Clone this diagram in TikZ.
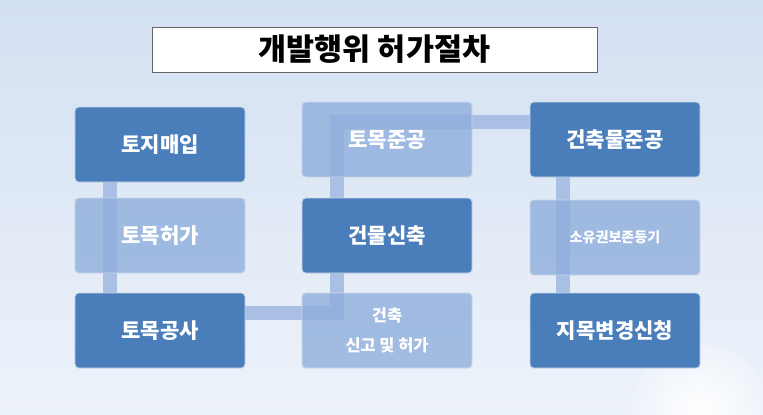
\documentclass[tikz,border=0pt]{standalone}
\usepackage{fontspec}
\setmainfont{Noto Sans CJK KR}
\usetikzlibrary{backgrounds}

\definecolor{darkbox}{HTML}{4A7EBB}
\definecolor{lightbox}{HTML}{8FAEDC}
\definecolor{linkblue}{HTML}{A9BFE3}
\definecolor{bgtop}{HTML}{D3E0F2}

\tikzset{
  stepdark/.style={draw=white!70!darkbox, line width=0.8pt, fill=darkbox, rounded corners=3pt,
    minimum width=5.1cm, minimum height=2.25cm, text=white, font=\fontsize{18}{20}\selectfont\bfseries},
  steplight/.style={stepdark, fill=lightbox, fill opacity=0.8, text opacity=1},
  link/.style={linkblue, line width=12pt}
}

\begin{document}
\begin{tikzpicture}[x=0.03cm, y=-0.03cm]
\useasboundingbox (0,0) rectangle (763,414);

% Title
\node[draw=gray!80!black, fill=white, minimum width=13.35cm, minimum height=1.35cm,
  font=\fontsize{26}{30}\selectfont\bfseries] (title) at (374.5,49.5) {개발행위 허가절차};

% Steps
\node[stepdark]  (tj) at (160,144.5) {토지매입};
\node[steplight] (th) at (160,235.5) {토목허가};
\node[stepdark]  (tg) at (160,330.5) {토목공사};
\node[steplight] (tc) at (387,139.5) {토목준공};
\node[stepdark]  (gs) at (387,235.5) {건물신축};
\node[steplight, font=\fontsize{14}{26}\selectfont\bfseries, align=center] (gh) at (387,330.5) {건축\\신고 및 허가};
\node[stepdark]  (gj) at (615,139.5) {건축물준공};
\node[steplight, font=\fontsize{12}{14}\selectfont\bfseries] (sd) at (615,237.5) {소유권보존등기};
\node[stepdark]  (jb) at (615,330.5) {지목변경신청};

% Background and flow
\begin{pgfonlayer}{background}
\shade[top color=bgtop, bottom color=white!60!bgtop] (0,0) rectangle (763,414);
\begin{scope}
\clip (0,0) rectangle (763,414);
\shade[inner color=white, outer color=white!60!bgtop] (700,414) circle (70);
\end{scope}
\coordinate (c1) at (110,313);
\coordinate (c2) at (337,313);
\coordinate (c3) at (337,122);
\coordinate (c4) at (563,122);
\draw[link] (tj.south -| c1) -- (c1) -- (c2) -- (c3) -- (c4) -- (jb.north -| c4);
\end{pgfonlayer}
\end{tikzpicture}
\end{document}
